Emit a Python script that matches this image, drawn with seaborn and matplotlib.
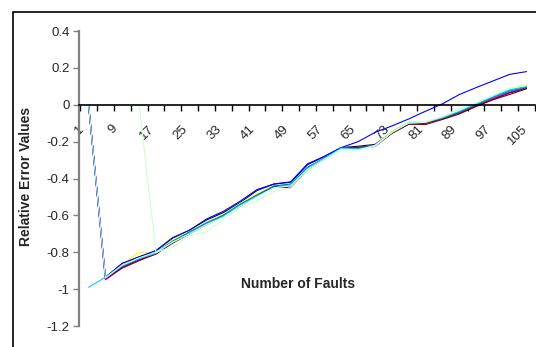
import pandas as pd
import numpy as np
import matplotlib
matplotlib.use("Agg")
import matplotlib.pyplot as plt
import seaborn as sns
from matplotlib.patches import Rectangle

# number of faults (categories on the x axis)
faults = list(range(1, 106, 4))

# relative error for each series, one value per category
s_navy = [0, -0.935, -0.86, -0.825, -0.795, -0.725, -0.68, -0.625, -0.585, -0.53, -0.465, -0.43, -0.42, -0.325, -0.28, -0.232, -0.225, -0.215, -0.15, -0.10, -0.10, -0.075, -0.045, -0.005, 0.03, 0.065, 0.09]
s_magenta = [0, -0.95, -0.885, -0.845, -0.805, -0.745, -0.695, -0.645, -0.605, -0.545, -0.495, -0.445, -0.44, -0.345, -0.295, -0.24, -0.235, -0.225, -0.155, -0.105, -0.10, -0.075, -0.045, -0.005, 0.035, 0.07, 0.095]
s_yellow = [0, -0.94, -0.865, -0.80, -0.80, -0.73, -0.685, -0.635, -0.595, -0.535, -0.48, -0.445, -0.435, -0.345, -0.29, -0.235, -0.235, -0.22, -0.145, -0.095, -0.09, -0.07, -0.035, 0.005, 0.045, 0.085, 0.11]
s_cyan = [0, -0.94, -0.87, -0.83, -0.80, -0.74, -0.69, -0.645, -0.60, -0.54, -0.49, -0.445, -0.43, -0.34, -0.29, -0.235, -0.24, -0.225, -0.15, -0.10, -0.095, -0.07, -0.035, 0.005, 0.045, 0.08, 0.10]
s_purple = [0, -0.945, -0.88, -0.84, -0.805, -0.745, -0.695, -0.645, -0.60, -0.545, -0.49, -0.445, -0.44, -0.34, -0.29, -0.235, -0.23, -0.22, -0.155, -0.105, -0.10, -0.075, -0.045, -0.005, 0.03, 0.065, 0.09]
s_darkred = [0, -0.945, -0.885, -0.845, -0.81, -0.75, -0.70, -0.65, -0.605, -0.55, -0.495, -0.445, -0.45, -0.35, -0.295, -0.235, -0.232, -0.226, -0.155, -0.105, -0.107, -0.08, -0.05, -0.01, 0.027, 0.056, 0.087]
s_teal = [0, -0.94, -0.875, -0.835, -0.80, -0.74, -0.69, -0.64, -0.60, -0.54, -0.49, -0.44, -0.43, -0.34, -0.29, -0.235, -0.235, -0.22, -0.15, -0.10, -0.095, -0.072, -0.04, 0.0, 0.04, 0.075, 0.095]
s_blue = [0, -0.94, -0.86, -0.825, -0.79, -0.72, -0.68, -0.62, -0.578, -0.523, -0.46, -0.43, -0.418, -0.32, -0.28, -0.232, -0.20, -0.15, -0.115, -0.077, -0.035, 0.005, 0.055, 0.093, 0.129, 0.165, 0.18]
s_skyblue = [-0.99, -0.935, -0.87, -0.835, -0.805, -0.745, -0.695, -0.645, -0.605, -0.545, -0.495, -0.45, -0.435, -0.345, -0.29, -0.235, -0.24, -0.225, -0.15, -0.095, -0.095, -0.07, -0.035, 0.005, 0.045, 0.08, 0.10]
s_turq = [0, -0.94, -0.87, -0.83, -0.80, -0.745, -0.70, -0.65, -0.61, -0.55, -0.50, -0.45, -0.44, -0.35, -0.295, -0.24, -0.245, -0.225, -0.15, -0.095, -0.09, -0.065, -0.03, 0.01, 0.05, 0.09, 0.105]
s_green = [0, 0, 0, 0, -0.80, -0.77, -0.71, -0.69, -0.62, -0.56, -0.52, -0.47, -0.45, -0.36, -0.30, -0.245, -0.245, -0.22, -0.15, -0.10, -0.095, -0.065, -0.025, 0.01, 0.05, 0.09, 0.105]

series = {
    "navy": s_navy, "magenta": s_magenta, "yellow": s_yellow, "cyan": s_cyan,
    "purple": s_purple, "darkred": s_darkred, "teal": s_teal, "blue": s_blue,
    "skyblue": s_skyblue, "turq": s_turq, "green": s_green,
}
colors = {
    "navy": "#000080", "magenta": "#FF00FF", "yellow": "#FFFF00", "cyan": "#00FFFF",
    "purple": "#800080", "darkred": "#800000", "teal": "#008080", "blue": "#0000FF",
    "skyblue": "#00CCFF", "turq": "#CCFFFF", "green": "#CCFFCC",
}

rows = []
for name, vals in series.items():
    for i, v in enumerate(vals):
        rows.append({"idx": i, "value": v, "series": name})
df = pd.DataFrame(rows)

sns.set_style("white")
plt.rcParams["font.family"] = ["Liberation Sans", "DejaVu Sans"]

fig = plt.figure(figsize=(5.36, 3.47), dpi=100)
ax = fig.add_axes([0.148, 0.0605, 0.850, 0.850])

sns.lineplot(data=df, x="idx", y="value", hue="series", palette=colors,
             hue_order=list(series.keys()), legend=False, linewidth=0.8, ax=ax)

ax.set_xlim(-0.5, len(faults) - 0.5)
ax.set_ylim(-1.2, 0.4)

# y axis
ax.set_yticks(np.arange(-1.2, 0.41, 0.2))
ax.set_yticklabels(["-1.2", "-1", "-0.8", "-0.6", "-0.4", "-0.2", "0", "0.2", "0.4"])
ax.tick_params(axis="y", direction="out", length=4, width=1, color="#808080",
               labelsize=9.5, pad=3, left=True)

# x axis: tick marks between categories, labels every second category
ax.set_xticks(np.arange(-0.5, len(faults), 1))
ax.set_xticklabels([])
ax.tick_params(axis="x", which="major", direction="out", length=4, width=1,
               color="black", bottom=True)
lab_pos = np.arange(0, len(faults), 2)
ax.set_xticks(lab_pos - 0.55, minor=True)
ax.set_xticklabels([str(faults[i]) for i in lab_pos], minor=True)
ax.tick_params(axis="x", which="minor", length=0, labelsize=9.5, pad=13,
               labelrotation=45)
for lbl in ax.get_xticklabels(minor=True):
    lbl.set_horizontalalignment("right")
    lbl.set_verticalalignment("center")
    lbl.set_rotation_mode("anchor")

ax.spines["bottom"].set_position(("data", 0))
ax.spines["bottom"].set_color("black")
ax.spines["bottom"].set_linewidth(1.2)
ax.spines["left"].set_color("#808080")
ax.spines["left"].set_linewidth(1.6)
ax.spines["top"].set_visible(False)
ax.spines["right"].set_visible(False)
ax.set_xlabel("")
ax.set_ylabel("")

fig.text(298 / 536, 1 - 284 / 347, "Number of Faults", fontsize=10,
         fontweight="bold", ha="center", va="center")
fig.text(26.5 / 536, 1 - 176 / 347, "Relative Error Values", fontsize=10,
         fontweight="bold", ha="center", va="center", rotation=90)

# chart border (cut off at right and bottom)
fig.add_artist(Rectangle((12.5 / 536, -0.2), 1.5, 1.2 - 11.5 / 347,
                         transform=fig.transFigure, fill=False,
                         lw=1.2, ec="black"))

fig.savefig("out.png", dpi=100)
